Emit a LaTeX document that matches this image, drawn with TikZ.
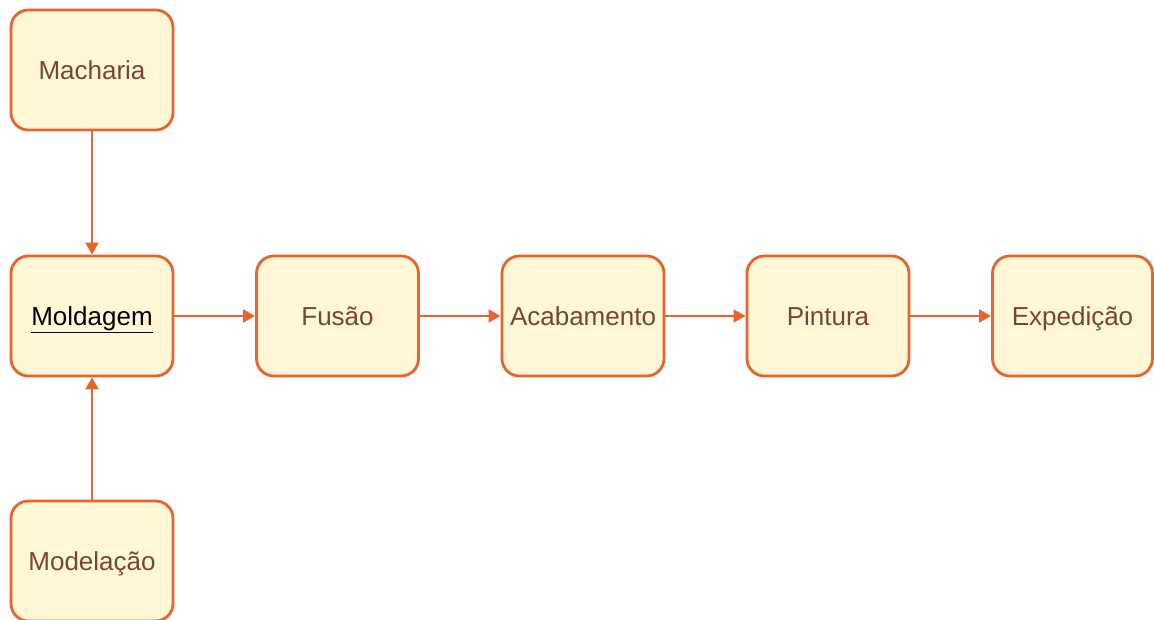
\documentclass[tikz,border=0pt]{standalone}
\usepackage{fontspec}
\setmainfont{Liberation Sans}
\usetikzlibrary{arrows.meta}
\definecolor{boxfill}{RGB}{255,247,214}
\definecolor{boxline}{RGB}{232,99,46}
\definecolor{boxtext}{RGB}{122,68,52}
\tikzset{
  stage/.style={draw=boxline, fill=boxfill, line width=2.1pt, rounded corners=13pt,
    minimum width=121.5pt, minimum height=90pt, inner sep=0pt,
    text height=14pt, text depth=0pt,
    text=boxtext, font=\fontsize{19.5pt}{23pt}\selectfont},
  flow/.style={draw=boxline, line width=2pt,
    -{Triangle[length=9pt,width=9.5pt]}}
}
\begin{document}
\begin{tikzpicture}[x=0.75pt,y=-0.75pt]
  \clip (0,0) rectangle (1154,619);
  \fill[white] (0,0) rectangle (1154,619);
  \node[stage] (mach) at (92,70) {Macharia};
  \node[stage, text=black] (mold) at (92,316) {\underline{Moldagem}};
  \node[stage] (fus) at (337.5,316) {Fusão};
  \node[stage] (acab) at (583,316) {Acabamento};
  \node[stage] (pint) at (828,316) {Pintura};
  \node[stage, minimum width=120pt] (exp) at (1072.5,316) {Expedição};
  \node[stage] (model) at (92,561) {Modelação};
  \draw[flow] (mach) -- (mold);
  \draw[flow] (model) -- (mold);
  \draw[flow] (mold) -- (fus);
  \draw[flow] (fus) -- (acab);
  \draw[flow] (acab) -- (pint);
  \draw[flow] (pint) -- (exp);
\end{tikzpicture}
\end{document}
